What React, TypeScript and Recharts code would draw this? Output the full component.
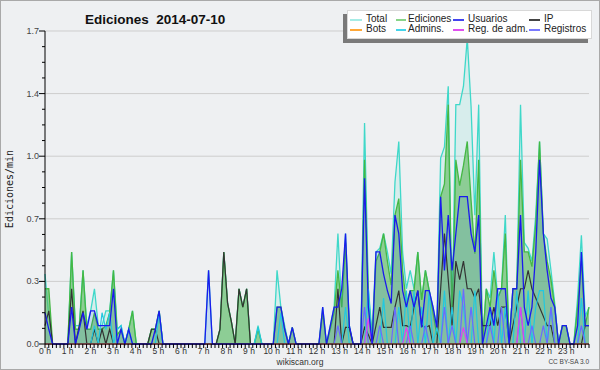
import React from 'react';
import { ComposedChart, Area, Line, XAxis, YAxis, CartesianGrid } from 'recharts';

// 144 ten-minute bins (6 per hour), values in edits per minute
const TOTAL = [
  0.38, 0.15, 0, 0, 0, 0,
  0, 0.5, 0.1, 0.1, 0.4, 0.1,
  0.18, 0.3, 0.1, 0.1, 0.18, 0.18,
  0.4, 0.08, 0.1, 0, 0.08, 0.18,
  0, 0, 0, 0, 0.08, 0.08,
  0.18, 0, 0, 0, 0, 0,
  0, 0, 0, 0, 0, 0,
  0, 0.4, 0, 0, 0.08, 0.5,
  0.22, 0.12, 0, 0.3, 0.2, 0.3,
  0, 0, 0.1, 0, 0, 0,
  0, 0.4, 0.2, 0.1, 0, 0.09,
  0, 0, 0, 0, 0, 0,
  0, 0.2, 0, 0.1, 0.2, 0.6,
  0.2, 0.6, 0.1, 0, 0, 0,
  1.2, 0.3, 0.05, 0.5, 0.52, 0.6,
  0.5, 0.38, 0.88, 1.1, 0.5, 0.3,
  0.4, 0.3, 0.5, 0.24, 0.4, 0.29,
  0.2, 0.09, 1.01, 1.07, 1.4, 0.15,
  1.3, 1.3, 1.4, 1.66, 1.29, 0.7,
  1.3, 0, 0.3, 0.25, 0.5, 0.25,
  0.3, 0.7, 0, 0.3, 0.3, 1.3,
  0.55, 0.52, 0.45, 0.7, 1.1, 0.6,
  0.57, 0.4, 0.22, 0, 0.1, 0.1,
  0, 0, 0.25, 0.59, 0.15, 0.2,
];

const EDICIONES = [
  0.3, 0.3, 0, 0, 0, 0,
  0, 0.5, 0.08, 0.08, 0.4, 0.08,
  0.08, 0.17, 0.08, 0.08, 0.1, 0.17,
  0.4, 0.05, 0.08, 0, 0.08, 0.18,
  0, 0, 0, 0, 0.08, 0.08,
  0.18, 0, 0, 0, 0, 0,
  0, 0, 0, 0, 0, 0,
  0, 0, 0, 0, 0.08, 0.5,
  0.22, 0.12, 0, 0.3, 0.2, 0.3,
  0, 0, 0.08, 0, 0, 0,
  0, 0.2, 0.2, 0.08, 0, 0.09,
  0, 0, 0, 0, 0, 0,
  0, 0.17, 0, 0.08, 0.17, 0.4,
  0.2, 0.55, 0.08, 0, 0, 0,
  1.0, 0.25, 0.03, 0.45, 0.5, 0.6,
  0.45, 0.32, 0.7, 0.79, 0.4, 0.22,
  0.29, 0.29, 0.5, 0.24, 0.4, 0.29,
  0.17, 0.05, 0.8, 0.87, 1.3, 0.15,
  1.0, 0.86, 0.97, 1.1, 0.78, 0.49,
  1.0, 0, 0.3, 0.2, 0.4, 0.25,
  0.3, 0.6, 0, 0.3, 0.3, 1.0,
  0.5, 0.5, 0.42, 0.65, 1.1, 0.6,
  0.45, 0.35, 0.2, 0, 0.1, 0.1,
  0, 0, 0.2, 0.45, 0.1, 0.2,
];

const USUARIOS = [
  0.17, 0.08, 0, 0, 0, 0,
  0, 0.2, 0, 0.08, 0.17, 0.08,
  0.18, 0.18, 0.1, 0.1, 0.1, 0.1,
  0.3, 0, 0.08, 0, 0.08, 0,
  0, 0, 0, 0, 0, 0.08,
  0.18, 0, 0, 0, 0, 0,
  0, 0, 0, 0, 0, 0,
  0, 0.4, 0, 0, 0, 0,
  0, 0, 0, 0, 0, 0,
  0, 0, 0, 0, 0, 0,
  0, 0.2, 0.2, 0.08, 0, 0.09,
  0, 0, 0, 0, 0, 0,
  0, 0.2, 0, 0.1, 0.2, 0.2,
  0.3, 0.6, 0.1, 0, 0, 0,
  0.9, 0.2, 0, 0.5, 0.5, 0.38,
  0.29, 0.22, 0.7, 0.6, 0.29, 0.2,
  0.29, 0.2, 0.29, 0.09, 0.29, 0.29,
  0.2, 0.09, 0.8, 0.4, 0.7, 0.4,
  0.6, 0.8, 0.8, 0.8, 0.6, 0.5,
  0.7, 0, 0.1, 0.2, 0.1, 0.3,
  0.3, 0.3, 0, 0.3, 0.3, 0.7,
  0.2, 0.1, 0.2, 0.5, 1.0, 0.6,
  0.4, 0.25, 0.2, 0, 0.1, 0.1,
  0, 0, 0.1, 0.5, 0.1, 0.1,
];

const IP = [
  0.1, 0.18, 0, 0, 0, 0,
  0, 0.3, 0, 0.1, 0.18, 0,
  0, 0.08, 0, 0.08, 0, 0.08,
  0, 0, 0, 0, 0, 0,
  0, 0, 0, 0, 0.08, 0.08,
  0, 0, 0, 0, 0, 0,
  0, 0, 0, 0, 0, 0,
  0, 0, 0, 0, 0.08, 0.5,
  0.22, 0.12, 0, 0.3, 0.2, 0.3,
  0, 0, 0, 0, 0, 0,
  0, 0, 0, 0, 0, 0,
  0, 0, 0, 0, 0, 0,
  0, 0, 0, 0, 0, 0.3,
  0, 0.09, 0.09, 0, 0, 0,
  0.09, 0.05, 0, 0.1, 0.2, 0.09,
  0.09, 0.09, 0.2, 0.29, 0.1, 0.1,
  0.09, 0.2, 0.29, 0.1, 0.09, 0.1,
  0, 0, 0.3, 0.6, 0.35, 0.1,
  0.45, 0.35, 0.45, 0.3, 0.3, 0.25,
  0.3, 0.1, 0.1, 0.1, 0.2, 0.1,
  0.2, 0.2, 0, 0.1, 0.2, 0.3,
  0.3, 0.4, 0.3, 0.25, 0.2, 0.15,
  0.1, 0.1, 0, 0, 0, 0,
  0, 0, 0, 0, 0.1, 0.1,
];

const BOTS = [
  0, 0, 0, 0, 0, 0, 0, 0, 0, 0, 0, 0, 0, 0, 0, 0, 0, 0, 0, 0, 0, 0, 0, 0,
  0, 0, 0, 0, 0, 0, 0, 0, 0, 0, 0, 0, 0, 0, 0, 0, 0, 0, 0, 0, 0, 0, 0, 0,
  0, 0, 0, 0, 0, 0, 0, 0, 0, 0, 0, 0, 0, 0, 0, 0, 0, 0, 0, 0, 0, 0, 0, 0,
  0, 0, 0, 0, 0, 0, 0, 0, 0, 0, 0, 0, 0, 0, 0, 0, 0, 0, 0, 0, 0, 0, 0, 0,
  0, 0, 0, 0, 0, 0, 0, 0, 0, 0, 0, 0, 0, 0, 0, 0, 0, 0, 0, 0, 0, 0, 0, 0,
  0, 0, 0, 0, 0, 0, 0, 0, 0, 0, 0, 0, 0, 0, 0, 0, 0, 0, 0, 0, 0, 0, 0, 0,
];

const ADMINS = [
  0, 0, 0, 0, 0, 0,
  0, 0, 0, 0, 0, 0,
  0, 0.1, 0, 0.17, 0.08, 0.17,
  0, 0.08, 0.1, 0, 0.08, 0,
  0, 0, 0, 0, 0, 0,
  0.17, 0, 0, 0, 0, 0,
  0, 0, 0, 0, 0, 0,
  0, 0, 0, 0, 0, 0,
  0, 0, 0, 0, 0, 0,
  0, 0, 0.09, 0, 0, 0,
  0, 0, 0.17, 0, 0, 0,
  0, 0, 0, 0, 0, 0,
  0, 0, 0, 0, 0, 0,
  0, 0.2, 0, 0, 0, 0,
  0, 0.3, 0, 0, 0, 0.25,
  0, 0, 0, 0.2, 0, 0.29,
  0, 0.29, 0, 0.2, 0, 0.29,
  0, 0.09, 0, 0.29, 0, 0.2,
  0, 0.29, 0.2, 0, 0, 0.29,
  0, 0, 0, 0.2, 0, 0.29,
  0, 0.2, 0, 0, 0.29, 0,
  0, 0.29, 0, 0.2, 0.29, 0.29,
  0, 0.2, 0, 0, 0, 0,
  0, 0, 0, 0.25, 0, 0,
];

const REG_ADM = [
  0, 0, 0, 0, 0, 0, 0, 0, 0, 0, 0, 0, 0, 0, 0, 0, 0, 0, 0, 0, 0, 0, 0, 0,
  0, 0, 0, 0, 0, 0, 0, 0, 0, 0, 0, 0, 0, 0, 0, 0, 0, 0, 0, 0, 0, 0, 0, 0,
  0, 0, 0, 0, 0, 0, 0, 0, 0, 0, 0, 0, 0, 0, 0, 0, 0, 0, 0, 0, 0, 0, 0, 0,
  0, 0, 0, 0, 0, 0, 0, 0, 0, 0, 0, 0, 0, 0.14, 0, 0, 0, 0, 0, 0, 0, 0, 0, 0.09,
  0, 0, 0, 0, 0, 0, 0, 0, 0, 0, 0, 0, 0, 0, 0.09, 0, 0, 0, 0, 0, 0, 0, 0, 0,
  0, 0, 0, 0, 0, 0.2, 0, 0, 0, 0, 0, 0, 0, 0, 0, 0, 0, 0, 0, 0, 0, 0, 0, 0,
];

const REGISTROS = [
  0, 0, 0, 0, 0, 0, 0, 0, 0, 0, 0, 0, 0, 0, 0, 0, 0, 0, 0, 0, 0, 0, 0, 0,
  0, 0, 0, 0, 0, 0, 0, 0, 0, 0, 0, 0, 0, 0, 0, 0, 0, 0, 0, 0, 0, 0, 0, 0,
  0, 0, 0, 0, 0, 0, 0, 0, 0, 0, 0, 0, 0, 0, 0, 0, 0, 0, 0, 0, 0, 0, 0, 0,
  0, 0, 0, 0, 0, 0.1, 0, 0, 0, 0, 0, 0, 0.2, 0, 0, 0, 0.1, 0, 0, 0, 0.2, 0, 0, 0,
  0.1, 0, 0, 0, 0.1, 0, 0, 0, 0, 0.2, 0, 0.1, 0, 0, 0.3, 0, 0.2, 0, 0, 0, 0, 0.1, 0, 0,
  0.2, 0, 0, 0, 0, 0.2, 0, 0, 0.1, 0, 0, 0.1, 0, 0.2, 0, 0, 0, 0, 0, 0, 0, 0.1, 0, 0,
];

const Y_MAJOR = [0, 0.34, 0.68, 1.02, 1.36, 1.7];
const Y_MAJOR_LABELS = ['0.0', '0.3', '0.7', '1.0', '1.4', '1.7'];
const Y_MINOR_STEP = 0.085;
const HOUR_LABELS = [
  '0 h', '1 h', '2 h', '3 h', '4 h', '5 h', '6 h', '7 h', '8 h', '9 h', '10 h', '11 h',
  '12 h', '13 h', '14 h', '15 h', '16 h', '17 h', '18 h', '19 h', '20 h', '21 h', '22 h', '23 h',
];

const SERIES = [
  { key: 'total', name: 'Total', color: '#3fd8c9', legend: '#a6ece6' },
  { key: 'ediciones', name: 'Ediciones', color: '#44b844', legend: '#88d488' },
  { key: 'usuarios', name: 'Usuarios', color: '#1a1aee', legend: '#4444ee' },
  { key: 'ip', name: 'IP', color: '#333333', legend: '#444444' },
  { key: 'bots', name: 'Bots', color: '#ffa028', legend: '#ffa838' },
  { key: 'admins', name: 'Admins.', color: '#22c8e0', legend: '#44d4ea' },
  { key: 'regadm', name: 'Reg. de adm.', color: '#e040f0', legend: '#e050f0' },
  { key: 'registros', name: 'Registros', color: '#6a6aff', legend: '#7a7aff' },
];
const colorOf = (k: string) => SERIES.find((s) => s.key === k)!.color;

const N = TOTAL.length;
const data = TOTAL.map((v, i) => ({
  t: (i * 24) / (N - 1),
  total: v,
  ediciones: EDICIONES[i],
  usuarios: USUARIOS[i],
  ip: IP[i],
  bots: BOTS[i],
  admins: ADMINS[i],
  regadm: REG_ADM[i],
  registros: REGISTROS[i],
}));

const yTicks: number[] = [];
for (let k = 0; k <= 20; k++) yTicks.push(+(k * Y_MINOR_STEP).toFixed(3));
const xTicks: number[] = [];
for (let k = 0; k <= 144; k++) xTicks.push(k / 6);

const FONT = '"Liberation Sans", Arial, sans-serif';

const XTick = (props: any) => {
  const { x, y, payload } = props;
  const k = Math.round(payload.value * 6);
  const isHour = k % 6 === 0 && k < 144;
  return (
    <g>
      <line x1={x} x2={x} y1={y} y2={y + 4} stroke="#000" strokeWidth={1} />
      {isHour && (
        <text x={x} y={y + 10} textAnchor="middle" fontSize={8.5} fill="#333" fontFamily={FONT}>
          {HOUR_LABELS[k / 6]}
        </text>
      )}
    </g>
  );
};

const YTick = (props: any) => {
  const { x, y, payload } = props;
  const k = Math.round(payload.value / Y_MINOR_STEP);
  const major = k % 4 === 0;
  return (
    <g>
      <line x1={x - (major ? 6 : 3)} x2={x} y1={y} y2={y} stroke="#000" strokeWidth={1} />
      {major && (
        <text x={x - 6} y={y + 3} textAnchor="end" fontSize={9} fill="#444" fontFamily={FONT}>
          {Y_MAJOR_LABELS[k / 4]}
        </text>
      )}
    </g>
  );
};

const LEGEND_ROWS = [
  ['total', 'ediciones', 'usuarios', 'ip'],
  ['bots', 'admins', 'regadm', 'registros'],
];
const LEGEND_COLS = [
  { lx: 350, lw: 12, tx: 366 },
  { lx: 396, lw: 10, tx: 408 },
  { lx: 453, lw: 11, tx: 468 },
  { lx: 529, lw: 11, tx: 544 },
];

export default function App() {
  return (
    <div
      style={{
        position: 'absolute',
        left: 0,
        top: 0,
        width: 600,
        height: 370,
        background: '#eef0f2',
        fontFamily: FONT,
        overflow: 'hidden',
      }}
    >
      <div style={{ position: 'absolute', left: 0, top: 0 }}>
        <ComposedChart width={600} height={370} data={data} margin={{ top: 31, right: 11, bottom: 6, left: 0 }}>
          <CartesianGrid vertical={false} horizontalValues={Y_MAJOR} stroke="#cdcdcd" strokeWidth={1} />
          <XAxis
            dataKey="t"
            type="number"
            domain={[0, 24]}
            ticks={xTicks}
            interval={0}
            tick={<XTick />}
            tickLine={false}
            tickSize={0}
            tickMargin={0}
            height={20}
            axisLine={{ stroke: '#000', strokeWidth: 1 }}
          />
          <YAxis
            type="number"
            domain={[0, 1.7]}
            ticks={yTicks}
            interval={0}
            tick={<YTick />}
            tickLine={false}
            tickSize={0}
            tickMargin={0}
            width={45}
            axisLine={{ stroke: '#000', strokeWidth: 1 }}
          />
          <Area
            type="linear"
            dataKey="total"
            stroke={colorOf('total')}
            strokeWidth={1.3}
            fill="#3fd8c9"
            fillOpacity={0.13}
            dot={false}
            activeDot={false}
            isAnimationActive={false}
          />
          <Area
            type="linear"
            dataKey="ediciones"
            stroke={colorOf('ediciones')}
            strokeWidth={1.3}
            fill="#5cb85c"
            fillOpacity={0.6}
            dot={false}
            activeDot={false}
            isAnimationActive={false}
          />
          <Area
            type="linear"
            dataKey="usuarios"
            stroke="none"
            fill="#3050ff"
            fillOpacity={0.1}
            dot={false}
            activeDot={false}
            isAnimationActive={false}
          />
          <Line type="linear" dataKey="ip" stroke={colorOf('ip')} strokeWidth={1.2} dot={false} activeDot={false} isAnimationActive={false} />
          <Line type="linear" dataKey="admins" stroke={colorOf('admins')} strokeWidth={1.2} dot={false} activeDot={false} isAnimationActive={false} />
          <Line type="linear" dataKey="registros" stroke={colorOf('registros')} strokeWidth={1.2} dot={false} activeDot={false} isAnimationActive={false} />
          <Line type="linear" dataKey="regadm" stroke={colorOf('regadm')} strokeWidth={1.2} dot={false} activeDot={false} isAnimationActive={false} />
          <Line type="linear" dataKey="bots" stroke={colorOf('bots')} strokeWidth={1.2} dot={false} activeDot={false} isAnimationActive={false} />
          <Line type="linear" dataKey="usuarios" stroke={colorOf('usuarios')} strokeWidth={1.3} dot={false} activeDot={false} isAnimationActive={false} />
        </ComposedChart>
      </div>

      <svg width={600} height={370} style={{ position: 'absolute', left: 0, top: 0, pointerEvents: 'none' }}>
        <text x={85} y={23.5} fontSize={13.5} fontWeight="bold" fill="#111" fontFamily={FONT} xmlSpace="preserve">
          Ediciones  2014-07-10
        </text>
        <text
          x={0}
          y={0}
          transform="translate(13 189) rotate(-90)"
          textAnchor="middle"
          fontSize={10}
          fill="#222"
          fontFamily='"DejaVu Sans Mono", monospace'
        >
          Ediciones/min
        </text>
        <text x={300} y={365} textAnchor="middle" fontSize={8.5} fill="#333" fontFamily={FONT}>
          wikiscan.org
        </text>
        <text x={589} y={364} textAnchor="end" fontSize={6.5} fill="#444" fontFamily={FONT}>
          CC BY-SA 3.0
        </text>
      </svg>

      <div
        style={{
          position: 'absolute',
          left: 347,
          top: 10,
          width: 243,
          height: 27,
          background: '#fff',
          border: '1px solid #d8d8d8',
          boxShadow: '-4px 4px 0 #7a7a7a',
        }}
      />
      {LEGEND_ROWS.map((row, r) =>
        row.map((key, c) => {
          const s = SERIES.find((x) => x.key === key)!;
          const col = LEGEND_COLS[c];
          const cy = r === 0 ? 19 : 29;
          return (
            <React.Fragment key={key}>
              <div
                style={{
                  position: 'absolute',
                  left: col.lx,
                  top: cy,
                  width: col.lw,
                  height: 1.5,
                  background: s.legend,
                }}
              />
              <div
                style={{
                  position: 'absolute',
                  left: col.tx,
                  top: cy - 6,
                  fontSize: 10,
                  lineHeight: '12px',
                  color: '#222',
                  whiteSpace: 'nowrap',
                }}
              >
                {s.name}
              </div>
            </React.Fragment>
          );
        })
      )}
      <div
        style={{
          position: 'absolute',
          left: 0,
          top: 0,
          width: 600,
          height: 370,
          boxSizing: 'border-box',
          border: '1px solid #a9a9a9',
          pointerEvents: 'none',
        }}
      />
    </div>
  );
}
